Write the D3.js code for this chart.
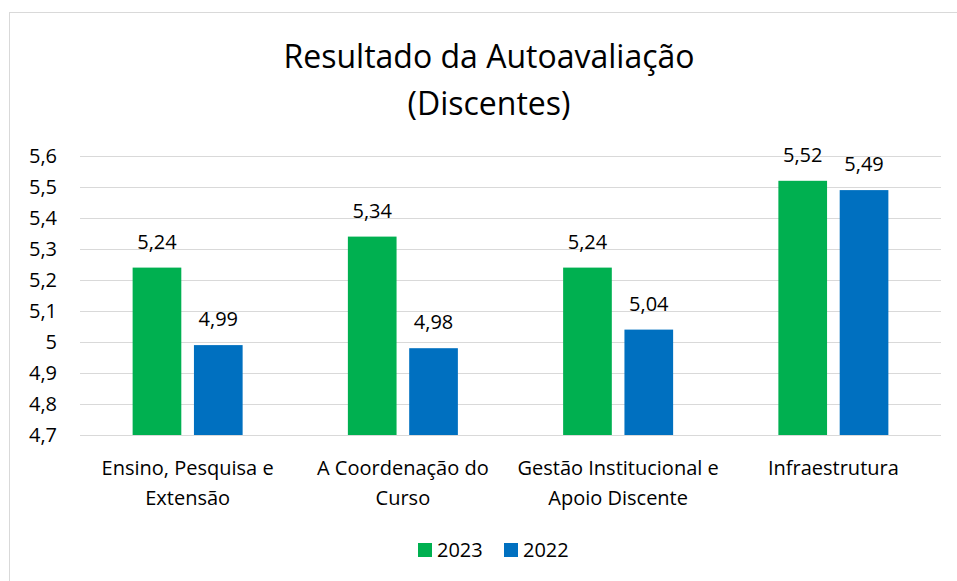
<!DOCTYPE html>
<html>
<head>
    <meta charset="utf-8">
    <title>Resultado da Autoavaliação (Discentes)</title>
    <script src="https://d3js.org/d3.v7.min.js"></script>
    <style>
        body, html {
            margin: 0;
            padding: 0;
            background: #fff;
            overflow: hidden;
        }
        svg {
            display: block;
            font-family: "Open Sans", sans-serif;
        }
        .grid line {
            stroke: #d9d9d9;
            stroke-width: 1;
        }
    </style>
</head>
<body>
    <svg id="chart" width="957" height="581"></svg>
    <script>
        const categories = [
            ["Ensino, Pesquisa e", "Extensão"],
            ["A Coordenação do", "Curso"],
            ["Gestão Institucional e", "Apoio Discente"],
            ["Infraestrutura"]
        ];
        const series = ["2023", "2022"];
        const values2023 = [5.24, 5.34, 5.24, 5.52];
        const values2022 = [4.99, 4.98, 5.04, 5.49];
        const yTicks = [4.7, 4.8, 4.9, 5.0, 5.1, 5.2, 5.3, 5.4, 5.5, 5.6];
        const colors = ["#00B050", "#0070C0"];

        const rows = categories.map((c, i) => ({ key: i, label: c, vals: [values2023[i], values2022[i]] }));

        const svg = d3.select("#chart");
        const fmt = v => String(Math.round(v * 100) / 100).replace(".", ",");
        const fs = 20; // text size for labels

        // outer chart frame
        svg.append("rect")
            .attr("x", 9.5).attr("y", 12.5)
            .attr("width", 960).attr("height", 600)
            .attr("fill", "#fff")
            .attr("stroke", "#d9d9d9");

        const plot = { left: 80, right: 941, top: 156, bottom: 435 };

        const x = d3.scaleBand()
            .domain(rows.map(d => d.key))
            .range([plot.left, plot.right]);

        const x1 = d3.scaleBand()
            .domain(series)
            .range([-55, 55])
            .paddingInner(0.206);

        const y = d3.scaleLinear()
            .domain([4.7, 5.6])
            .range([plot.bottom, plot.top]);

        // title
        const title = svg.append("text")
            .attr("text-anchor", "middle")
            .attr("font-size", 32)
            .attr("fill", "#000");
        title.append("tspan").attr("x", 489).attr("y", 68).text("Resultado da Autoavaliação");
        title.append("tspan").attr("x", 489).attr("y", 115).text("(Discentes)");

        // gridlines
        svg.append("g")
            .attr("class", "grid")
            .selectAll("line")
            .data(yTicks)
            .join("line")
            .attr("x1", plot.left).attr("x2", plot.right)
            .attr("y1", d => Math.round(y(d)) + 0.5)
            .attr("y2", d => Math.round(y(d)) + 0.5);

        // y axis labels
        const yAxis = svg.append("g")
            .attr("transform", `translate(${plot.left},0)`)
            .call(d3.axisLeft(y).tickValues(yTicks).tickSize(0).tickPadding(23).tickFormat(fmt));
        yAxis.select(".domain").remove();
        yAxis.selectAll("text")
            .attr("font-family", "Open Sans, sans-serif")
            .attr("font-size", fs)
            .attr("fill", "#000");

        // bars
        const groups = svg.append("g")
            .selectAll("g")
            .data(rows)
            .join("g")
            .attr("transform", d => `translate(${x(d.key) + x.bandwidth() / 2},0)`);

        groups.selectAll("rect")
            .data(d => d.vals.map((v, j) => ({ s: series[j], v: v, j: j })))
            .join("rect")
            .attr("x", d => x1(d.s))
            .attr("width", x1.bandwidth())
            .attr("y", d => y(d.v))
            .attr("height", d => y(4.7) - y(d.v))
            .attr("fill", d => colors[d.j]);

        groups.selectAll("text.val")
            .data(d => d.vals.map((v, j) => ({ s: series[j], v: v })))
            .join("text")
            .attr("class", "val")
            .attr("x", d => x1(d.s) + x1.bandwidth() / 2)
            .attr("y", d => y(d.v) - 19)
            .attr("text-anchor", "middle")
            .attr("font-size", fs)
            .attr("fill", "#000")
            .text(d => fmt(d.v));

        // category labels
        groups.append("text")
            .attr("text-anchor", "middle")
            .attr("font-size", fs)
            .attr("fill", "#000")
            .selectAll("tspan")
            .data(d => d.label)
            .join("tspan")
            .attr("x", 0)
            .attr("y", (d, i) => 475 + i * 30)
            .text(d => d);

        // legend
        const legend = svg.append("g")
            .selectAll("g")
            .data(series)
            .join("g")
            .attr("transform", (d, i) => `translate(${418 + i * 86},543)`);
        legend.append("rect")
            .attr("width", 14).attr("height", 14)
            .attr("fill", (d, i) => colors[i]);
        legend.append("text")
            .attr("x", 19).attr("y", 14)
            .attr("font-size", fs)
            .attr("fill", "#000")
            .text(d => d);
    </script>
</body>
</html>
